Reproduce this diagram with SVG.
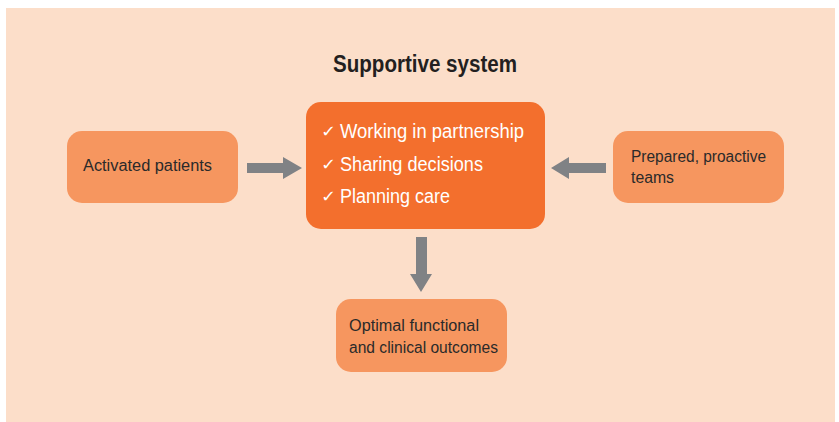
<svg xmlns="http://www.w3.org/2000/svg" width="839" height="422" viewBox="0 0 839 422">
<style>
.side{fill:#f6965f}
.main{fill:#f36f2d}
.t{font-family:"Liberation Sans","Open Sans",Arial,sans-serif;fill:#2a2a2a;font-size:16px}
.w{font-family:"Liberation Sans","Open Sans",Arial,sans-serif;fill:#ffffff;font-size:19.5px}
.ck{font-family:"DejaVu Sans",sans-serif;fill:#ffffff;font-size:16px;font-weight:normal}
.arr{fill:#808285}
</style>
<rect x="0" y="0" width="839" height="422" fill="#ffffff"/>
<rect x="6" y="8" width="829" height="414" fill="#fcdec9"/>
<text x="425" y="72" text-anchor="middle" font-family="Liberation Sans, Arial, sans-serif" font-weight="bold" font-size="23" fill="#231f20" textLength="184" lengthAdjust="spacingAndGlyphs">Supportive system</text>
<g id="connectors">
<polygon class="arr" points="247,163 283,163 283,157 302,168 283,179 283,173 247,173"/>
<polygon class="arr" points="606,163 569,163 569,157 551,168 569,179 569,173 606,173"/>
<polygon class="arr" points="416,237 427,237 427,274 432,274 421,292 410,274 416,274"/>
</g>
<g id="activated">
<rect class="side" x="67" y="131" width="171" height="72" rx="15"/>
<text class="t" x="83" y="171" textLength="129" lengthAdjust="spacingAndGlyphs">Activated patients</text>
</g>
<g id="center">
<rect class="main" x="306" y="102" width="239" height="127" rx="15"/>
<text class="ck" x="321" y="137" textLength="15" lengthAdjust="spacingAndGlyphs">✓</text>
<text class="w" x="340" y="138" textLength="184" lengthAdjust="spacingAndGlyphs">Working in partnership</text>
<text class="ck" x="321" y="170" textLength="15" lengthAdjust="spacingAndGlyphs">✓</text>
<text class="w" x="340" y="171" textLength="143" lengthAdjust="spacingAndGlyphs">Sharing decisions</text>
<text class="ck" x="321" y="202" textLength="15" lengthAdjust="spacingAndGlyphs">✓</text>
<text class="w" x="340" y="203" textLength="110" lengthAdjust="spacingAndGlyphs">Planning care</text>
</g>
<g id="prepared">
<rect class="side" x="613" y="131" width="171" height="72" rx="15"/>
<text class="t" x="631" y="162" textLength="135" lengthAdjust="spacingAndGlyphs">Prepared, proactive</text>
<text class="t" x="631" y="183" textLength="43" lengthAdjust="spacingAndGlyphs">teams</text>
</g>
<g id="outcomes">
<rect class="side" x="336" y="299" width="171" height="73" rx="15"/>
<text class="t" x="349" y="331" textLength="130" lengthAdjust="spacingAndGlyphs">Optimal functional</text>
<text class="t" x="349" y="353" textLength="149" lengthAdjust="spacingAndGlyphs">and clinical outcomes</text>
</g>
</svg>
